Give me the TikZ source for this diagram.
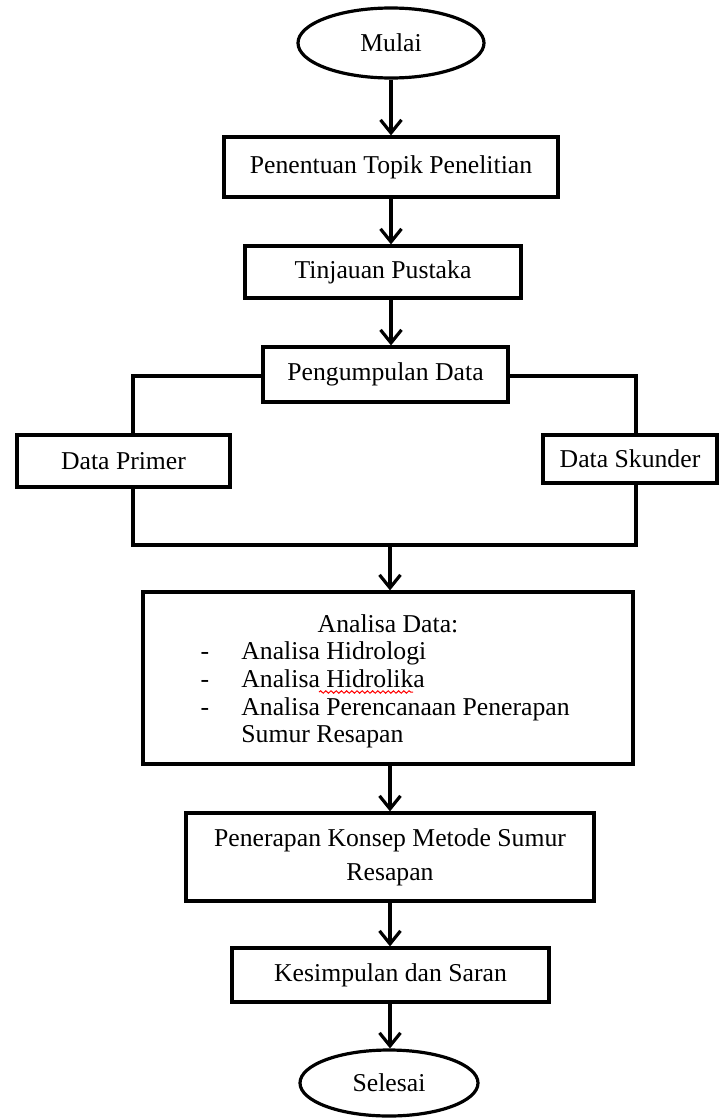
\documentclass[tikz,border=0pt]{standalone}
\usepackage{fontspec}
\setmainfont{Liberation Serif}
\usetikzlibrary{arrows.meta}
\usetikzlibrary{shapes.geometric}
\usetikzlibrary{decorations.pathmorphing}

\begin{document}
\begin{tikzpicture}[%%
  x=0.5pt,y=-0.5pt,%%
  font=\fontsize{12.85}{17}\selectfont,%%
  boxStyle/.style={draw,line width=1.6pt,inner sep=0pt,align=center},%%
  ovalStyle/.style={draw,ellipse,line width=1.6pt,inner sep=0pt},%%
  lineStyle/.style={-,line width=1.6pt},%%
  arrowStyle/.style={-{Straight Barb[length=6.5pt,width=10.5pt,line width=1.6pt]},line width=1.6pt},%%
  itemStyle/.style={anchor=base west,inner sep=0pt}
]
\useasboundingbox (0,0) rectangle (719,1119);
%%
%% The main column of steps.
\node[ovalStyle,minimum width=93pt,minimum height=35pt] (mulai) at (391,43) {Mulai};
\node[boxStyle,minimum width=167pt,minimum height=30pt] (topik) at (391,167) {Penentuan Topik Penelitian};
\node[boxStyle,minimum width=138pt,minimum height=26pt] (pustaka) at (383,272) {Tinjauan Pustaka};
\node[boxStyle,minimum width=122.5pt,minimum height=27.5pt] (kumpul) at (385.5,374.5) {Pengumpulan Data};
%% The two kinds of data.
\node[boxStyle,minimum width=106.5pt,minimum height=26pt] (primer) at (123.5,461) {Data Primer};
\node[boxStyle,minimum width=87pt,minimum height=24pt] (skunder) at (630,459) {Data Skunder};
%% The analysis box, with its list.
\node[boxStyle,minimum width=245pt,minimum height=86pt] (analisa) at (388,678) {};
\node[anchor=base,inner sep=0pt] (analisaJudul) at (388,632) {Analisa Data:};
\foreach \yb/\teks [count=\i] in {659/Analisa Hidrologi,687/Analisa Hidrolika,715/Analisa Perencanaan Penerapan}{
  \node[anchor=base,inner sep=0pt] (strip\i) at (205,\yb) {-};
  \node[itemStyle] (poin\i) at (241,\yb) {\teks};
}
\node[itemStyle] (poin4) at (241,742) {Sumur Resapan};
\draw[red,line width=0.5pt,decorate,decoration={snake,amplitude=0.6pt,segment length=2.6pt}] (319,692) -- (413,692);
%% The last steps.
\node[boxStyle,minimum width=204pt,minimum height=44pt] (konsep) at (390,857) {Penerapan Konsep Metode Sumur\\Resapan};
\node[boxStyle,minimum width=158.5pt,minimum height=27pt] (simpul) at (390.5,975) {Kesimpulan dan Saran};
\node[ovalStyle,minimum width=89pt,minimum height=33pt] (selesai) at (389,1083) {Selesai};
%%
%% Branch and merge points.
\coordinate (legL) at (133,376);
\coordinate (legR) at (636,376);
\coordinate (merge) at (390,545);
%%
%% Arrows down the column.
\draw[arrowStyle] (mulai.south) -- (topik.north);
\draw[arrowStyle] (topik.south) -- (topik.south |- pustaka.north);
\draw[arrowStyle] (topik.south |- pustaka.south) -- (topik.south |- kumpul.north);
%% Split into the two kinds of data.
\draw[lineStyle] (kumpul.west |- legL) -- (legL) -- (legL |- primer.north);
\draw[lineStyle] (kumpul.east |- legR) -- (legR) -- (legR |- skunder.north);
%% Join again.
\draw[lineStyle] (legL |- primer.south) |- (merge) -| (legR |- skunder.south);
\draw[arrowStyle] (merge) -- (merge |- analisa.north);
\draw[arrowStyle] (merge |- analisa.south) -- (merge |- konsep.north);
\draw[arrowStyle] (merge |- konsep.south) -- (merge |- simpul.north);
\draw[arrowStyle] (merge |- simpul.south) -- (merge |- selesai.north);
\end{tikzpicture}
\end{document}
